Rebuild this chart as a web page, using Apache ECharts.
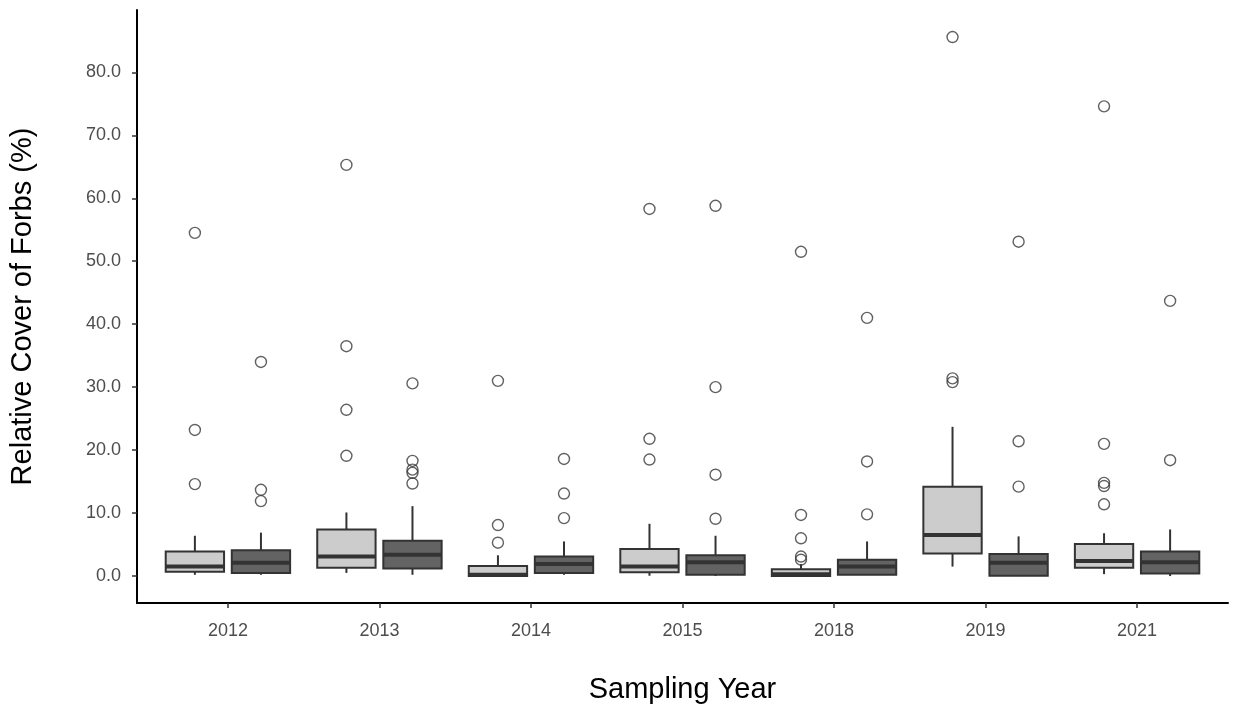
<!DOCTYPE html>
<html>
<head>
<meta charset="utf-8">
<title>Relative Cover of Forbs</title>
<script src="https://cdn.jsdelivr.net/npm/echarts@6/dist/echarts.min.js"></script>
<style>
  html, body { margin: 0; padding: 0; background: #ffffff; }
  #chart { width: 1235px; height: 711px; }
</style>
</head>
<body>
<div id="chart"></div>
<script>
// Sampling years (x categories)
const years = ['2012', '2013', '2014', '2015', '2018', '2019', '2021'];

// Y tick values
const yTicks = [0, 10, 20, 30, 40, 50, 60, 70, 80];

// Box statistics per year: [lower whisker, Q1, median, Q3, upper whisker]
const lightStats = [
  [0.2, 0.7, 1.5, 3.9, 6.4],
  [0.5, 1.3, 3.1, 7.4, 10.1],
  [0.0, 0.0, 0.2, 1.6, 3.3],
  [0.05, 0.6, 1.5, 4.3, 8.3],
  [0.0, 0.0, 0.3, 1.1, 1.9],
  [1.5, 3.6, 6.5, 14.2, 23.7],
  [0.3, 1.3, 2.4, 5.1, 6.8]
];
const darkStats = [
  [0.2, 0.5, 2.1, 4.1, 6.9],
  [0.2, 1.2, 3.4, 5.6, 11.1],
  [0.2, 0.5, 1.9, 3.1, 5.5],
  [0.0, 0.2, 2.2, 3.3, 6.4],
  [0.2, 0.2, 1.5, 2.6, 5.5],
  [0.0, 0.05, 2.1, 3.5, 6.3],
  [0.0, 0.4, 2.2, 3.9, 7.4]
];

// Outlying observations per year
const lightOutliers = [
  [54.5, 23.2, 14.6],
  [65.3, 36.5, 26.4, 19.1],
  [31.0, 8.1, 5.3],
  [58.3, 21.8, 18.5],
  [51.5, 9.7, 6.0, 3.1, 2.6],
  [85.6, 31.4, 30.8],
  [74.6, 21.0, 14.8, 14.3, 11.4]
];
const darkOutliers = [
  [34.0, 13.7, 11.9],
  [30.6, 18.3, 16.9, 16.4, 14.7],
  [18.6, 13.1, 9.2],
  [58.8, 30.0, 16.1, 9.1],
  [41.0, 18.2, 9.8],
  [53.1, 21.4, 14.2],
  [43.7, 18.4]
];

// Layout of the dodged pair within each year (in category units)
const DODGE = 0.218;
const BOX_W = 0.385;
const LINE = '#333333';
const FONT = '"Liberation Sans", Arial, sans-serif';

function boxData(stats, offset) {
  return stats.map((s, i) => [i + 1 + offset].concat(s));
}
function outlierData(list, offset) {
  const out = [];
  list.forEach((vals, i) => vals.forEach(v => out.push([i + 1 + offset, v])));
  return out;
}

function makeRenderer(fill) {
  return function (params, api) {
    const x = api.value(0);
    const lo = api.coord([x, api.value(1)]);
    const q1 = api.coord([x, api.value(2)]);
    const med = api.coord([x, api.value(3)]);
    const q3 = api.coord([x, api.value(4)]);
    const hi = api.coord([x, api.value(5)]);
    const half = api.size([BOX_W, 0])[0] / 2;
    const cx = q1[0];
    return {
      type: 'group',
      children: [
        { type: 'line', shape: { x1: cx, y1: hi[1], x2: cx, y2: q3[1] },
          style: { stroke: LINE, lineWidth: 2 } },
        { type: 'line', shape: { x1: cx, y1: q1[1], x2: cx, y2: lo[1] },
          style: { stroke: LINE, lineWidth: 2 } },
        { type: 'rect', shape: { x: cx - half, y: q3[1], width: half * 2, height: Math.max(q1[1] - q3[1], 0.5) },
          style: { fill: fill, stroke: LINE, lineWidth: 2 } },
        { type: 'line', shape: { x1: cx - half, y1: med[1], x2: cx + half, y2: med[1] },
          style: { stroke: LINE, lineWidth: 4 } }
      ]
    };
  };
}

const outlierStyle = {
  color: 'rgba(255,255,255,0)',
  borderColor: '#3a3a3a',
  borderWidth: 1.4
};

const chart = echarts.init(document.getElementById('chart'), null, { renderer: 'canvas' });
chart.setOption({
  backgroundColor: '#ffffff',
  animation: false,
  grid: { left: 137, right: 7, top: 10, bottom: 108 },
  xAxis: {
    type: 'value',
    min: 0.4,
    max: 7.6,
    name: 'Sampling Year',
    nameLocation: 'middle',
    nameGap: 72,
    nameTextStyle: { fontFamily: FONT, fontSize: 29, color: '#000000' },
    splitLine: { show: false },
    axisLine: { show: true, onZero: false, lineStyle: { color: '#000000', width: 2 } },
    axisTick: { show: true, length: 5, customValues: [1, 2, 3, 4, 5, 6, 7], lineStyle: { color: '#333333', width: 1.5 } },
    axisLabel: {
      customValues: [1, 2, 3, 4, 5, 6, 7],
      formatter: v => years[Math.round(v) - 1],
      margin: 19,
      fontFamily: FONT, fontSize: 18, color: '#4d4d4d'
    }
  },
  yAxis: {
    type: 'value',
    min: -4.28,
    max: 89.9,
    name: 'Relative Cover of Forbs (%)',
    nameLocation: 'middle',
    nameGap: 100,
    nameTextStyle: { fontFamily: FONT, fontSize: 29, color: '#000000' },
    splitLine: { show: false },
    axisLine: { show: true, onZero: false, lineStyle: { color: '#000000', width: 2 } },
    axisTick: { show: true, length: 5, customValues: yTicks, lineStyle: { color: '#333333', width: 1.5 } },
    axisLabel: {
      customValues: yTicks,
      formatter: v => v.toFixed(1),
      margin: 16,
      fontFamily: FONT, fontSize: 18, color: '#4d4d4d'
    }
  },
  series: [
    {
      name: 'light outliers', type: 'scatter', symbol: 'circle', symbolSize: 11,
      data: outlierData(lightOutliers, -DODGE), itemStyle: outlierStyle, z: 3
    },
    {
      name: 'dark outliers', type: 'scatter', symbol: 'circle', symbolSize: 11,
      data: outlierData(darkOutliers, DODGE), itemStyle: outlierStyle, z: 3
    },
    {
      name: 'light', type: 'custom', renderItem: makeRenderer('#cccccc'),
      encode: { x: 0, y: [1, 2, 3, 4, 5] }, data: boxData(lightStats, -DODGE), z: 4
    },
    {
      name: 'dark', type: 'custom', renderItem: makeRenderer('#636363'),
      encode: { x: 0, y: [1, 2, 3, 4, 5] }, data: boxData(darkStats, DODGE), z: 4
    }
  ]
});
</script>
</body>
</html>
